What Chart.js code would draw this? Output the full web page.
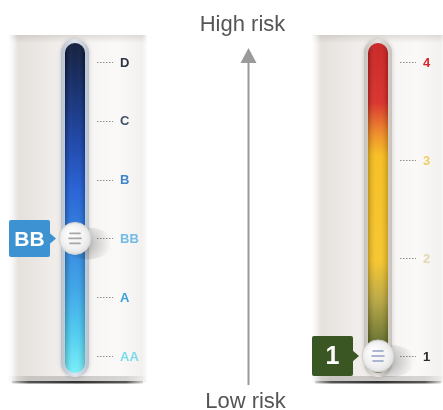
<!DOCTYPE html>
<html>
<head>
<meta charset="utf-8">
<script src="https://cdn.jsdelivr.net/npm/chart.js@4/dist/chart.umd.min.js"></script>
<style>
  html, body { margin: 0; padding: 0; background: #ffffff; }
  canvas { display: block; }
</style>
</head>
<body>
<canvas id="gauges" width="443" height="410"></canvas>
<script>
// Gauges shown side by side
const gauges = ['Rating', 'Risk class'];
// Rating scale, listed from the top of the tube (worst) to the bottom (best)
const ratingLevels = ['D', 'C', 'B', 'BB', 'A', 'AA'];
// Risk classes, top of the tube to the bottom
const riskLevels = ['4', '3', '2', '1'];
// Current position of each slider
const currentRating = 'BB';
const currentRisk = '1';
// Texts at both ends of the central arrow
const arrowTexts = ['High risk', 'Low risk'];

// ---- styling ----
const ratingLabelColors = ['#2f3542', '#41536b', '#3d86cc', '#74bae6', '#3a9fd9', '#7adbea'];
const riskLabelColors = ['#d8262e', '#f1cd66', '#e3d8b0', '#2a2a2a'];
const ratingTubeStops = [
  [0, '#0a1533'], [0.12, '#0c2460'], [0.3, '#143fa6'], [0.45, '#1e5cd6'],
  [0.6, '#2b80de'], [0.75, '#36a3e8'], [0.88, '#48caf0'], [1, '#72eef8']
];
const riskTubeStops = [
  [0, '#c81d1d'], [0.18, '#d82a24'], [0.27, '#ee8420'], [0.34, '#f7bc19'],
  [0.66, '#f6c426'], [0.78, '#b7a43c'], [0.9, '#66702a'], [1, '#48561f']
];
const badgeColors = ['#3d92d2', '#3a5622'];
const knobLineColors = ['#a6a6a6', '#93a0c4'];
const arrowPos = 0.57; // share of the distance between the two gauges

function drawCard(ctx, left, right, top, bottom) {
  const g = ctx.createLinearGradient(left, 0, right, 0);
  g.addColorStop(0, '#f7f6f5');
  g.addColorStop(0.08, '#e5e1dd');
  g.addColorStop(0.3, '#eeebe8');
  g.addColorStop(0.5, '#f6f4f2');
  g.addColorStop(0.8, '#faf9f8');
  g.addColorStop(1, '#f1efed');
  ctx.fillStyle = g;
  ctx.fillRect(left, top, right - left, bottom - top);
  // soft shade under the top edge
  const t = ctx.createLinearGradient(0, top, 0, top + 8);
  t.addColorStop(0, 'rgba(150,140,130,0.25)');
  t.addColorStop(1, 'rgba(150,140,130,0)');
  ctx.fillStyle = t;
  ctx.fillRect(left, top, right - left, 8);
  // fade the side edges into white
  const l = ctx.createLinearGradient(left, 0, left + 9, 0);
  l.addColorStop(0, 'rgba(255,255,255,1)');
  l.addColorStop(1, 'rgba(255,255,255,0)');
  ctx.fillStyle = l;
  ctx.fillRect(left, top, 9, bottom - top);
  const r = ctx.createLinearGradient(right - 5, 0, right, 0);
  r.addColorStop(0, 'rgba(255,255,255,0)');
  r.addColorStop(1, 'rgba(255,255,255,0.8)');
  ctx.fillStyle = r;
  ctx.fillRect(right - 5, top, 5, bottom - top);
  // dark shadow line along the bottom
  const b = ctx.createLinearGradient(left, 0, right, 0);
  b.addColorStop(0, 'rgba(40,40,40,0)');
  b.addColorStop(0.15, 'rgba(40,40,40,0.75)');
  b.addColorStop(0.5, 'rgba(30,30,30,0.9)');
  b.addColorStop(0.85, 'rgba(40,40,40,0.75)');
  b.addColorStop(1, 'rgba(40,40,40,0)');
  ctx.save();
  ctx.fillStyle = b;
  ctx.globalAlpha = 0.22;
  ctx.fillRect(left, bottom - 7, right - left, 6);
  ctx.globalAlpha = 1;
  ctx.fillRect(left + 4, bottom - 2, right - left - 8, 2.5);
  ctx.restore();
}

function drawTube(ctx, cx, top, bottom, stops, rimColor) {
  // outer rim
  ctx.save();
  ctx.shadowColor = 'rgba(0,0,0,0.18)';
  ctx.shadowBlur = 4;
  const rim = ctx.createLinearGradient(cx - 14, 0, cx + 14, 0);
  rim.addColorStop(0, rimColor[0]);
  rim.addColorStop(0.5, rimColor[1]);
  rim.addColorStop(1, rimColor[0]);
  ctx.fillStyle = rim;
  ctx.beginPath();
  ctx.roundRect(cx - 14, top - 4, 28, bottom - top + 8, 14);
  ctx.fill();
  ctx.restore();
  // liquid
  ctx.save();
  ctx.beginPath();
  ctx.roundRect(cx - 10, top, 20, bottom - top, 10);
  ctx.clip();
  const g = ctx.createLinearGradient(0, top, 0, bottom);
  stops.forEach(s => g.addColorStop(s[0], s[1]));
  ctx.fillStyle = g;
  ctx.fillRect(cx - 10, top, 20, bottom - top);
  const h = ctx.createLinearGradient(cx - 10, 0, cx + 10, 0);
  h.addColorStop(0, 'rgba(0,0,0,0.22)');
  h.addColorStop(0.4, 'rgba(255,255,255,0.06)');
  h.addColorStop(0.6, 'rgba(255,255,255,0.06)');
  h.addColorStop(1, 'rgba(0,0,0,0.18)');
  ctx.fillStyle = h;
  ctx.fillRect(cx - 10, top, 20, bottom - top);
  ctx.restore();
}

function drawTicks(ctx, scale, cx, colors) {
  const labels = scale.getLabels();
  ctx.save();
  ctx.font = 'bold 13px "Liberation Sans", Arial, sans-serif';
  ctx.textAlign = 'left';
  ctx.textBaseline = 'middle';
  labels.forEach((lab, i) => {
    const y = scale.getPixelForValue(i);
    ctx.strokeStyle = '#8c8c8c';
    ctx.lineWidth = 1;
    ctx.setLineDash([1.5, 1.5]);
    ctx.beginPath();
    ctx.moveTo(cx + 22, Math.round(y) + 0.5);
    ctx.lineTo(cx + 38, Math.round(y) + 0.5);
    ctx.stroke();
    ctx.setLineDash([]);
    ctx.fillStyle = colors[i];
    ctx.fillText(lab, cx + 45, y + 1);
  });
  ctx.restore();
}

function knobShadow(ctx, x, y) {
  ctx.save();
  const g = ctx.createRadialGradient(x + 12, y + 5, 2, x + 12, y + 5, 24);
  g.addColorStop(0, 'rgba(0,0,0,0.24)');
  g.addColorStop(1, 'rgba(0,0,0,0)');
  ctx.fillStyle = g;
  ctx.beginPath();
  ctx.ellipse(x + 12, y + 5, 26, 16, 0, 0, Math.PI * 2);
  ctx.fill();
  ctx.restore();
}

function drawBadge(ctx, x, y, text, color, h, fontSize) {
  ctx.save();
  ctx.fillStyle = color;
  ctx.beginPath();
  ctx.roundRect(x - 66, y - h / 2, 41, h, 2);
  ctx.fill();
  ctx.beginPath();
  ctx.moveTo(x - 26, y - 6);
  ctx.lineTo(x - 19, y);
  ctx.lineTo(x - 26, y + 6);
  ctx.closePath();
  ctx.fill();
  ctx.fillStyle = '#ffffff';
  ctx.font = 'bold ' + fontSize + 'px "Liberation Sans", Arial, sans-serif';
  ctx.textAlign = 'center';
  ctx.textBaseline = 'middle';
  ctx.fillText(text, x - 45.5, y + 1.5);
  ctx.restore();
}

function knobDetails(ctx, x, y, lineColor) {
  ctx.save();
  const g = ctx.createRadialGradient(x - 5, y - 6, 1, x, y, 16);
  g.addColorStop(0, 'rgba(255,255,255,0.95)');
  g.addColorStop(0.7, 'rgba(255,255,255,0.2)');
  g.addColorStop(1, 'rgba(190,190,190,0.35)');
  ctx.fillStyle = g;
  ctx.beginPath();
  ctx.arc(x, y, 15.5, 0, Math.PI * 2);
  ctx.fill();
  ctx.strokeStyle = lineColor;
  ctx.lineWidth = 1.6;
  ctx.lineCap = 'round';
  [[-5, 5], [0, 6], [5, 5]].forEach(([dy, w]) => {
    ctx.beginPath();
    ctx.moveTo(x - w, y + dy);
    ctx.lineTo(x + w, y + dy);
    ctx.stroke();
  });
  ctx.restore();
}

const gaugePlugin = {
  id: 'gaugeDecor',
  beforeDatasetsDraw(chart) {
    const ctx = chart.ctx;
    const xs = chart.scales.x;
    const yR = chart.scales.yRating;
    const yK = chart.scales.yRisk;
    const gx0 = xs.getPixelForValue(0);
    const gx1 = xs.getPixelForValue(1);
    const top = yR.top, bottom = yR.bottom;

    drawCard(ctx, gx0 - 67, gx0 + 72, top - 27, bottom + 27);
    drawCard(ctx, gx1 - 67, gx1 + 67, top - 27, bottom + 27);

    drawTube(ctx, gx0, top - 19, bottom + 17, ratingTubeStops, ['#b9c3d0', '#dfe5ec']);
    drawTube(ctx, gx1, top - 19, bottom + 17, riskTubeStops, ['#c8c2bb', '#e6e2de']);

    drawTicks(ctx, yR, gx0, ratingLabelColors);
    drawTicks(ctx, yK, gx1, riskLabelColors);

    // central arrow from low to high risk
    const ax = Math.round(gx0 + (gx1 - gx0) * arrowPos) + 0.5;
    ctx.save();
    ctx.strokeStyle = '#9a9a9a';
    ctx.fillStyle = '#9a9a9a';
    ctx.lineWidth = 2;
    ctx.beginPath();
    ctx.moveTo(ax, top);
    ctx.lineTo(ax, bottom + 29);
    ctx.stroke();
    ctx.beginPath();
    ctx.moveTo(ax, top - 14);
    ctx.lineTo(ax + 8, top + 1);
    ctx.lineTo(ax - 8, top + 1);
    ctx.closePath();
    ctx.fill();
    ctx.fillStyle = '#555555';
    ctx.font = '22px "Liberation Sans", Arial, sans-serif';
    ctx.textAlign = 'center';
    ctx.textBaseline = 'alphabetic';
    ctx.fillText(arrowTexts[0], ax - 6, top - 31);
    ctx.fillText(arrowTexts[1], ax - 3, bottom + 52);
    ctx.restore();

    chart.data.datasets.forEach((ds, i) => {
      const el = chart.getDatasetMeta(i).data[0];
      if (el) knobShadow(ctx, el.x, el.y);
    });
  },
  afterDatasetsDraw(chart) {
    const ctx = chart.ctx;
    chart.data.datasets.forEach((ds, i) => {
      const el = chart.getDatasetMeta(i).data[0];
      if (!el) return;
      knobDetails(ctx, el.x, el.y, knobLineColors[i]);
      const raw = ds.data[0].y;
      if (i === 0) drawBadge(ctx, el.x, el.y, raw, badgeColors[0], 37, 21);
      else drawBadge(ctx, el.x, el.y, raw, badgeColors[1], 40, 25);
    });
  }
};

new Chart(document.getElementById('gauges'), {
  type: 'scatter',
  data: {
    datasets: [
      {
        label: gauges[0],
        data: [{ x: gauges[0], y: currentRating }],
        yAxisID: 'yRating',
        pointRadius: 16,
        pointBackgroundColor: '#eeeeee',
        pointBorderColor: '#cfcfcf',
        pointBorderWidth: 1,
        clip: false
      },
      {
        label: gauges[1],
        data: [{ x: gauges[1], y: currentRisk }],
        yAxisID: 'yRisk',
        pointRadius: 16,
        pointBackgroundColor: '#eeeeee',
        pointBorderColor: '#cfcfcf',
        pointBorderWidth: 1,
        clip: false
      }
    ]
  },
  options: {
    responsive: false,
    animation: false,
    devicePixelRatio: 1,
    layout: { padding: { left: 75, right: 65, top: 62, bottom: 54 } },
    scales: {
      x: { type: 'category', labels: gauges, offset: false, display: false },
      yRating: { type: 'category', labels: ratingLevels, offset: false, display: false, position: 'left' },
      yRisk: { type: 'category', labels: riskLevels, offset: false, display: false, position: 'right' }
    },
    plugins: {
      legend: { display: false },
      tooltip: { enabled: false }
    },
    events: []
  },
  plugins: [gaugePlugin]
});
</script>
</body>
</html>
